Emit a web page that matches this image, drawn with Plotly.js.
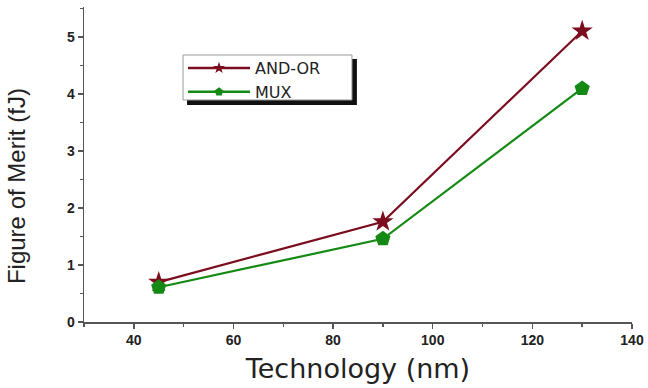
<!DOCTYPE html>
<html><head><meta charset="utf-8">
<script src="https://cdn.plot.ly/plotly-3.0.1.min.js"></script>
<style>body{margin:0;background:#fff}#c{width:648px;height:388px}</style>
</head><body><div id="c"></div>
<script>
const technology = [45, 90, 130];
const andOr = [0.70, 1.76, 5.11];
const mux = [0.61, 1.46, 4.10];
const seriesNames = ['AND-OR', 'MUX'];
const colors = ['#7b0d1e', '#148a14'];
const symbols = ['star', 'pentagon'];
const seriesValues = [andOr, mux];

const traces = [];
seriesValues.forEach((vals, i) => {
  traces.push({x: technology, y: vals, name: seriesNames[i], mode: 'lines+markers',
    showlegend: false,
    line: {color: colors[i], width: 2.2},
    marker: {symbol: symbols[i], size: 16, color: colors[i]}});
});
// legend-only entries with small symbols
seriesValues.forEach((vals, i) => {
  traces.push({x: [null], y: [null], name: seriesNames[i], mode: 'lines+markers',
    line: {color: colors[i], width: 2.5},
    marker: {symbol: symbols[i], size: 9, color: colors[i]}});
});

const tickFont = {size: 14, family: 'Liberation Sans, Arial', weight: 'bold', color: '#222'};
const layout = {
  width: 648, height: 388,
  margin: {l: 84, r: 16, t: 7, b: 66},
  paper_bgcolor: '#fff', plot_bgcolor: '#fff',
  font: {family: 'Liberation Sans, Arial, sans-serif', color: '#222'},
  showlegend: true,
  legend: {x: 0.1807, y: 0.860, xanchor: 'left', yanchor: 'top',
    bgcolor: 'rgba(0,0,0,0)', borderwidth: 0,
    itemwidth: 62,
    font: {size: 16, family: 'DejaVu Sans', color: '#222'}, tracegroupgap: 0},
  xaxis: {range: [30, 140], showgrid: false, zeroline: false,
    showline: true, linecolor: '#555', linewidth: 1.5,
    ticks: 'outside', ticklen: 5, tickcolor: '#555', tickwidth: 1.5,
    tickvals: [40, 60, 80, 100, 120, 140],
    tickfont: tickFont,
    minor: {dtick: 10, ticks: 'outside', ticklen: 3, tickcolor: '#555', tickwidth: 1.5},
    title: {text: 'Technology (nm)', font: {size: 27, family: 'DejaVu Sans', color: '#222'}, standoff: 12}},
  yaxis: {range: [0, 5.53], showgrid: false, zeroline: false,
    showline: true, linecolor: '#555', linewidth: 1.5,
    ticks: 'outside', ticklen: 5, tickcolor: '#555', tickwidth: 1.5,
    tickvals: [0, 1, 2, 3, 4, 5],
    tickfont: tickFont,
    minor: {dtick: 0.5, ticks: 'outside', ticklen: 3, tickcolor: '#555', tickwidth: 1.5}},
  annotations: [
    {text: 'Figure of Merit (fJ)', textangle: -90, xref: 'paper', yref: 'paper',
     x: -0.122, y: 0.432, xanchor: 'center', yanchor: 'middle', showarrow: false,
     font: {size: 24, family: 'Liberation Sans Narrow, Arial Narrow, Liberation Sans', color: '#222'}}
  ],
  shapes: [
    {type: 'rect', xref: 'paper', yref: 'paper', layer: 'below',
     x0: 0.188, x1: 0.498, y0: 0.689, y1: 0.835,
     fillcolor: '#111', line: {width: 0}},
    {type: 'rect', xref: 'paper', yref: 'paper', layer: 'below',
     x0: 0.1807, x1: 0.489, y0: 0.7048, y1: 0.8476,
     fillcolor: '#fff', line: {color: '#999', width: 1}}
  ]
};
Plotly.newPlot('c', traces, layout, {displayModeBar: false, staticPlot: true});
</script></body></html>
